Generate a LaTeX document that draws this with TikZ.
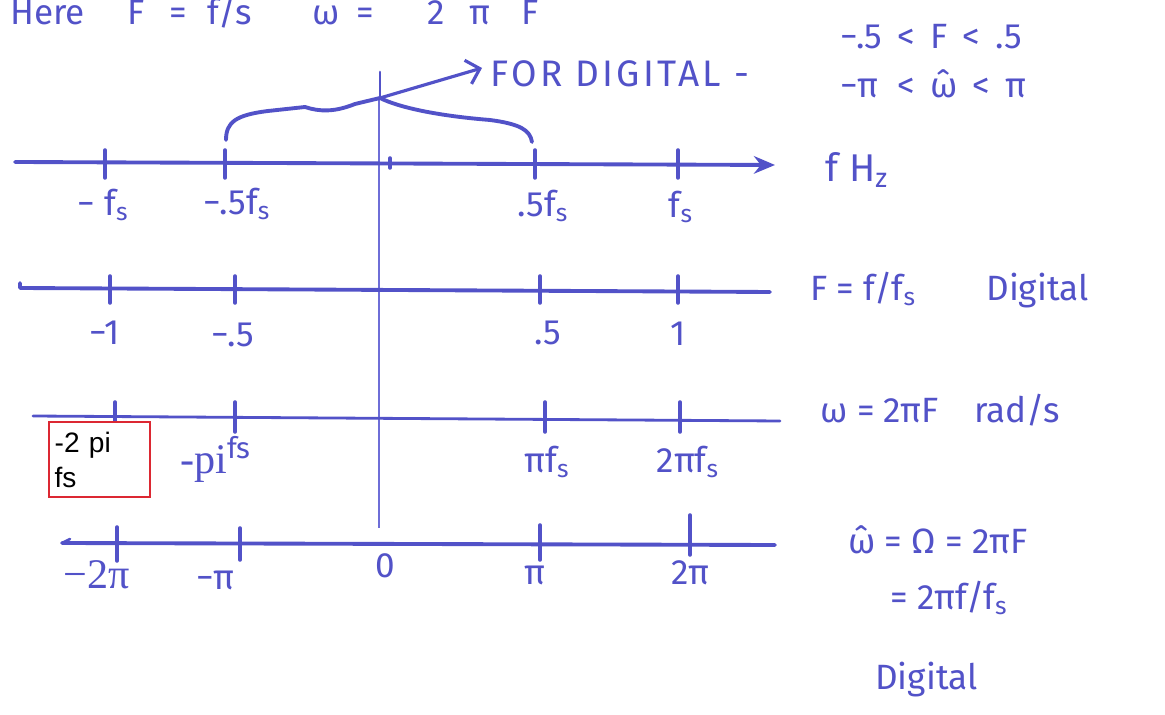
\documentclass[tikz,border=0pt]{standalone}
\usepackage{fontspec}
\usetikzlibrary{arrows.meta}
\newfontfamily\hand{Fira Sans}
\newfontfamily\handwide[LetterSpace=9]{Fira Sans}
\newfontfamily\serifx{Liberation Serif}
\newfontfamily\arialx{Liberation Sans}
\definecolor{ink}{RGB}{82,82,200}
\definecolor{zeroink}{RGB}{110,110,215}
\definecolor{boxred}{RGB}{220,40,50}
\tikzset{
  inkline/.style={draw=ink, line width=2.2pt, line cap=round, line join=round},
  tickline/.style={draw=ink, line width=2pt, line cap=round},
  lab/.style={text=ink, font=\hand\fontsize{20}{24}\selectfont, inner sep=0pt},
  widelab/.style={text=ink, font=\handwide\fontsize{21}{24}\selectfont, inner sep=0pt},
  biglab/.style={text=ink, font=\hand\fontsize{22}{26}\selectfont, inner sep=0pt},
  seriflab/.style={text=ink, font=\serifx\fontsize{24}{26}\selectfont, inner sep=0pt},
  redbox/.style={draw=boxred, line width=1.3pt, minimum width=101*0.02cm, minimum height=75*0.02cm,
     align=left, text width=90*0.02cm, inner sep=2.5pt, font=\arialx\fontsize{16}{20}\selectfont, text=black, fill=white}
}
\begin{document}
\begin{tikzpicture}[x=0.02cm,y=-0.02cm]
\useasboundingbox (0,0) rectangle (1165,715);
\clip (0,0) rectangle (1165,715);
\fill[white] (0,0) rectangle (1165,715);

% top line
\node[lab, anchor=base west] (here) at (10,25) {Here\hspace{24pt}F\hspace{14pt}=\hspace{12pt}f/s\hspace{34pt}ω\hspace{10pt}=\hspace{30pt}2\hspace{14pt}π\hspace{18pt}F};

% vertical zero line
\coordinate (vtop) at (379,97);
\coordinate (vbot) at (379,528);
\draw[draw=zeroink, line width=1pt] (vtop) -- (vbot);

% axis 1
\coordinate (a1L) at (15,162);
\coordinate (a1R) at (775,165);
\draw[inkline, -{Stealth[length=12pt,width=10pt]}] (a1L) -- (a1R);
\foreach \x in {105,225,535,678} \draw[tickline] (\x,150) -- (\x,178);
\draw[tickline] (390,158) -- (390,168);
\node[lab] (l1a) at (103,205) {− f\textsubscript{s}};
\node[lab] (l1b) at (237,204) {−.5f\textsubscript{s}};
\node[lab] (l1c) at (543,206) {.5f\textsubscript{s}};
\node[lab] (l1d) at (681,207) {f\textsubscript{s}};
\node[biglab] (fhz) at (857,170) {f  H\textsubscript{z}};

% brace and arrow
\coordinate (apex) at (380,98);
\draw[inkline] (226,140) .. controls (226,122) and (236,115) .. (268,111)
   -- (305,107) .. controls (320,112) and (335,112) .. (355,104) -- (apex)
   .. controls (400,108) and (440,116) .. (490,120) .. controls (520,124) and (530,130) .. (532,142);
\coordinate (arrtip) at (482,68);
\draw[inkline, line width=1.8pt, -{Straight Barb[length=7pt]}] (apex) -- (arrtip);
\draw[tickline, line width=1.5pt] (apex) -- (380,72);
\node[widelab, anchor=west] (fordig) at (490,74) {FOR DIGITAL -};

% top right inequalities
\node[lab, anchor=west] (ineq1) at (840,37) {−.5 \,<\, F \,<\, .5};
\node[lab, anchor=west] (ineq2) at (840,84) {−π \;<\, ω̂ \,<\, π};

% axis 2
\coordinate (a2L) at (20,288);
\coordinate (a2R) at (770,292);
\draw[inkline] (20,283) -- (a2L) -- (a2R);
\foreach \x in {110,235,540,678} \draw[tickline] (\x,276) -- (\x,303);
\node[lab] (l2a) at (105,333) {−1};
\node[lab] (l2b) at (233,335) {−.5};
\node[lab] (l2c) at (548,333) {.5};
\node[lab] (l2d) at (678,334) {1};
\node[lab, anchor=west] (Fdef) at (810,290) {F = f/f\textsubscript{s}\qquad Digital};

% axis 3
\coordinate (a3L) at (33,416);
\coordinate (a3R) at (780,421);
\draw[inkline, line width=1.6pt] (a3L) -- (a3R);
\foreach \x in {115,235,545,680} \draw[tickline] (\x,402) -- (\x,432);
\node[redbox, anchor=north west] (box) at (48,421) {-2 pi\\fs};
\node[seriflab, anchor=base west] (l3b) at (180,474) {-pi\textsuperscript{\hand f\kern-0.5pt s}};
\node[lab] (l3c) at (547,462) {πf\textsubscript{s}};
\node[lab] (l3d) at (688,462) {2πf\textsubscript{s}};
\node[lab, anchor=west] (wdef) at (820,410) {ω = 2πF\quad rad/s};

% axis 4
\coordinate (a4L) at (62,543);
\coordinate (a4R) at (775,545);
\draw[inkline] (a4L) -- (a4R);
\draw[inkline, line width=1.5pt] (a4L) -- (70,539);
\foreach \x/\a/\b in {117/527/561,240/528/560,540/525/560,690/515/555} \draw[tickline] (\x,\a) -- (\x,\b);
\node[seriflab] (l4a) at (97,575) {−2π};
\node[lab] (l4b) at (215,580) {−π};
\node[lab] (l4c) at (385,566) {0};
\node[lab] (l4d) at (535,575) {π};
\node[lab] (l4e) at (690,573) {2π};

% bottom right
\node[lab, anchor=west] (what) at (848,540) {ω̂ = Ω = 2πF};
\node[lab, anchor=west] (what2) at (890,598) {= 2πf/f\textsubscript{s}};
\node[lab, anchor=west] (dig2) at (875,680) {Digital};
\end{tikzpicture}
\end{document}
